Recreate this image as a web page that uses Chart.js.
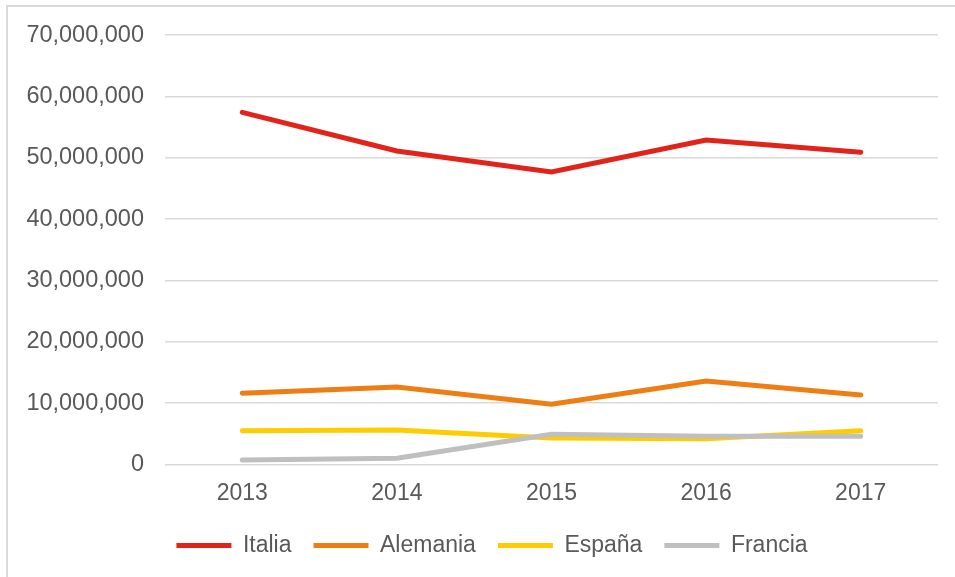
<!DOCTYPE html>
<html>
<head>
<meta charset="utf-8">
<script src="https://cdn.jsdelivr.net/npm/chart.js@4/dist/chart.umd.min.js"></script>
<style>
  html, body { margin: 0; padding: 0; background: #ffffff; }
  #frame { position: absolute; left: 6px; top: 5px; width: 960px; height: 580px;
           border-left: 2px solid #d9d9d9; border-top: 2px solid #d9d9d9; }
  #wrap { position: absolute; left: 0; top: 0; width: 955px; height: 577px; }
</style>
</head>
<body>
<div id="frame"></div>
<div id="wrap"><canvas id="c"></canvas></div>
<script>
const categories = ['2013', '2014', '2015', '2016', '2017'];
const italia   = [57400000, 51100000, 47700000, 52900000, 50900000];
const alemania = [11600000, 12600000, 9800000, 13600000, 11300000];
const espana   = [5500000, 5600000, 4300000, 4200000, 5500000];
const francia  = [700000, 1000000, 4900000, 4600000, 4600000];
const seriesNames = ['Italia', 'Alemania', 'España', 'Francia'];
const yMin = 0, yMax = 70000000, yStep = 10000000;

const colors = ['#e2231a', '#ee7d13', '#ffcc00', '#bfbfbf'];
const values = [italia, alemania, espana, francia];

const datasets = seriesNames.map((name, i) => ({
  label: name,
  data: values[i],
  borderColor: colors[i],
  backgroundColor: colors[i],
  borderWidth: 5,
  borderCapStyle: 'round',
  borderJoinStyle: 'miter',
  pointRadius: 0,
  pointHoverRadius: 0,
  tension: 0,
  fill: false,
  order: seriesNames.length - i
}));

const FONT = '"Liberation Sans", Arial, sans-serif';

const legendShift = {
  id: 'legendShift',
  afterLayout(chart) {
    const lg = chart.legend;
    if (lg) { lg.left += 13; lg.right += 13; lg.top -= 10; lg.bottom -= 10; }
  }
};

new Chart(document.getElementById('c'), {
  type: 'line',
  data: { labels: categories, datasets },
  plugins: [legendShift],
  options: {
    responsive: true,
    maintainAspectRatio: false,
    devicePixelRatio: 1,
    animation: false,
    layout: { padding: { left: 20, right: 17, top: 23, bottom: 0 } },
    plugins: {
      tooltip: { enabled: false },
      legend: {
        position: 'bottom',
        labels: {
          usePointStyle: true,
          pointStyle: 'line',
          pointStyleWidth: 55,
          boxHeight: 5,
          padding: 22,
          color: '#595959',
          font: { family: FONT, size: 23 },
          sort: (a, b) => a.datasetIndex - b.datasetIndex
        }
      }
    },
    scales: {
      x: {
        offset: true,
        grid: { display: false, drawTicks: false },
        border: { display: false },
        ticks: { color: '#595959', font: { family: FONT, size: 23 }, padding: 15, maxRotation: 0 }
      },
      y: {
        min: yMin, max: yMax,
        afterFit: (s) => { s.width = 145; },
        grid: { color: '#d9d9d9', lineWidth: 1.5, drawTicks: false },
        border: { display: false },
        ticks: {
          stepSize: yStep,
          color: '#595959',
          padding: 21,
          font: { family: FONT, size: 23.5 },
          callback: (v) => Number(v).toLocaleString('en-US')
        }
      }
    }
  }
});
</script>
</body>
</html>
